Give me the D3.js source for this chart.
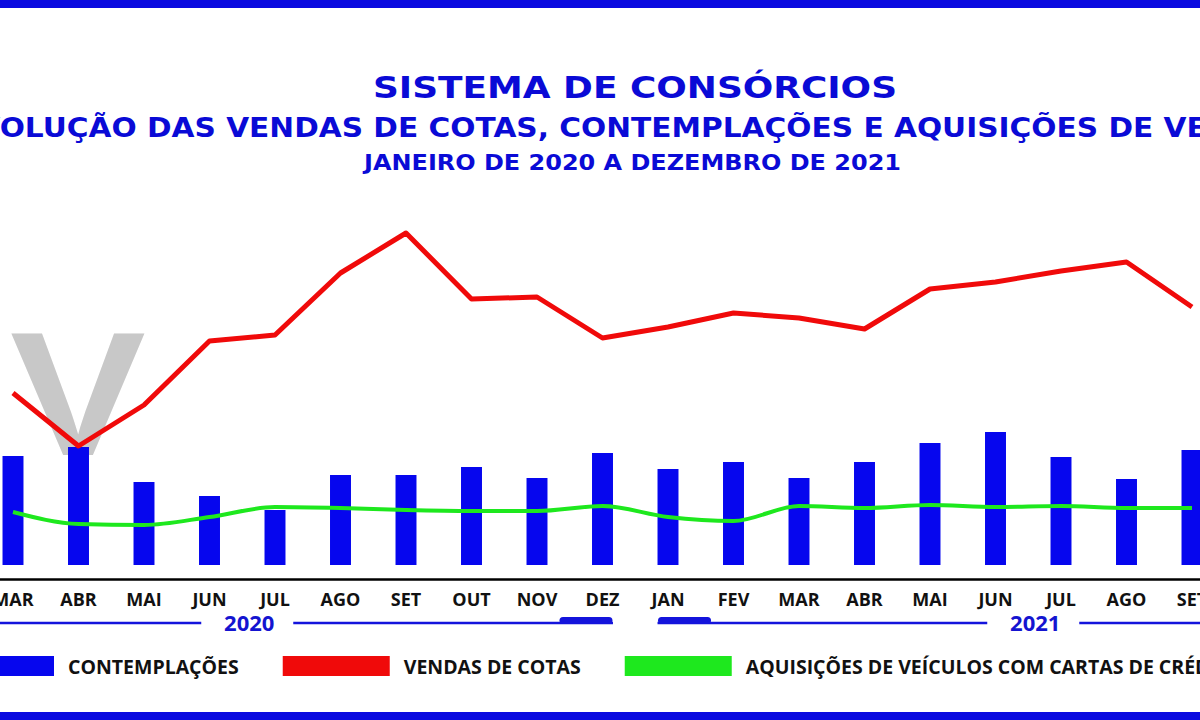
<!DOCTYPE html>
<html><head><meta charset="utf-8">
<script src="https://cdn.jsdelivr.net/npm/d3@7"></script>
<style>body{margin:0;background:#fff}</style>
</head><body><svg id="c" width="1200" height="720"></svg>
<script>
// ---- data (visible window: MAR 2020 .. SET 2021), values in thousands ----
const periodKeys = ["2020-03","2020-04","2020-05","2020-06","2020-07","2020-08","2020-09","2020-10","2020-11","2020-12",
                    "2021-01","2021-02","2021-03","2021-04","2021-05","2021-06","2021-07","2021-08","2021-09"];
const monthLabels = ["MAR","ABR","MAI","JUN","JUL","AGO","SET","OUT","NOV","DEZ",
                     "JAN","FEV","MAR","ABR","MAI","JUN","JUL","AGO","SET"];
const yearLabels = ["2020","2021"];
const contemplacoes = [109,118,83,69,55,90,90,98,87,112,96,103,87,103,122,133,108,86,115];
const vendasCotas   = [172,119,160,224,230,292,332,266,268,227,238,252,247,236,276,283,294,303,258];
const aquisicoesVeiculos = [53,41,40,48,58,57,55,54,54,59,48,44,59,57,60,58,59,57,57];
const titleLines = ["SISTEMA DE CONSÓRCIOS",
  "EVOLUÇÃO DAS VENDAS DE COTAS, CONTEMPLAÇÕES E AQUISIÇÕES DE VEÍCULOS",
  "JANEIRO DE 2020 A DEZEMBRO DE 2021"];
const legendLabels = ["CONTEMPLAÇÕES","VENDAS DE COTAS","AQUISIÇÕES DE VEÍCULOS COM CARTAS DE CRÉDITO"];
const watermark = "V";

const BLUE = "#0606ee", RED = "#f00a0a", GREEN = "#1ee81e", TITLE = "#0a0ad6";
const svg = d3.select("#c");

const x = d3.scaleBand().domain(periodKeys).range([-19.75, 1224.75]).paddingInner(0.68).paddingOuter(0.34);
const y = d3.scaleLinear().domain([0, 400]).range([565, 165]);
const cx = k => x(k) + x.bandwidth() / 2;

// borders
svg.append("rect").attr("x",0).attr("y",0).attr("width",1200).attr("height",8).attr("fill","#0a0ae0");
svg.append("rect").attr("x",0).attr("y",712).attr("width",1200).attr("height",8).attr("fill","#0a0ae0");

// titles
svg.append("text").text(titleLines[0]).attr("x",373).attr("y",98)
  .attr("font-family","DejaVu Sans").attr("font-weight","bold").attr("font-size",30)
  .attr("fill",TITLE).attr("textLength",524).attr("lengthAdjust","spacingAndGlyphs");
svg.append("text").text(titleLines[1]).attr("x",-43).attr("y",137)
  .attr("font-family","DejaVu Sans").attr("font-weight","bold").attr("font-size",26)
  .attr("fill",TITLE).attr("textLength",1371).attr("lengthAdjust","spacingAndGlyphs");
svg.append("text").text(titleLines[2]).attr("x",364).attr("y",170)
  .attr("font-family","DejaVu Sans").attr("font-weight","bold").attr("font-size",22)
  .attr("fill",TITLE).attr("textLength",537).attr("lengthAdjust","spacingAndGlyphs");

// gray watermark letter
svg.append("text").text(watermark).attr("transform","translate(10,455) scale(1.15,1)")
  .attr("font-family","Liberation Sans").attr("font-weight","bold").attr("font-size",177)
  .attr("fill","#c8c8c8");

// bars
svg.append("g").selectAll("rect").data(periodKeys).join("rect")
  .attr("x", d => x(d)).attr("width", x.bandwidth())
  .attr("y", (d,i) => y(contemplacoes[i])).attr("height", (d,i) => y(0) - y(contemplacoes[i]))
  .attr("fill", BLUE);

// lines
const lineG = d3.line().x(d => cx(d.k)).y(d => y(d.v)).curve(d3.curveMonotoneX);
svg.append("path").datum(periodKeys.map((k,i)=>({k, v: aquisicoesVeiculos[i]})))
  .attr("d", lineG).attr("fill","none").attr("stroke",GREEN).attr("stroke-width",4);
const lineR = d3.line().x(d => cx(d.k)).y(d => y(d.v));
svg.append("path").datum(periodKeys.map((k,i)=>({k, v: vendasCotas[i]})))
  .attr("d", lineR).attr("fill","none").attr("stroke",RED).attr("stroke-width",5)
  .attr("stroke-linejoin","round");

// x axis
const ax = svg.append("g").attr("transform","translate(0,579)")
  .call(d3.axisBottom(x).tickSize(0).tickSizeOuter(0).tickPadding(14).tickFormat((d,i)=>monthLabels[i]));
ax.select(".domain").attr("stroke","#000").attr("stroke-width",2.5);
ax.selectAll("text").attr("font-family","Open Sans").attr("font-weight","bold").attr("font-size",18).attr("fill","#111");

// year brackets
const [r0, r1] = x.range();
yearLabels.forEach((yr, yi) => {
  const keys = periodKeys.filter(k => k.startsWith(yr));
  const left = yi === 0 ? r0 : x(keys[0]);
  const right = yi === yearLabels.length - 1 ? r1 : x(keys[keys.length-1]) + x.bandwidth();
  const mid = (cx(yr+"-06") + cx(yr+"-07")) / 2 + 7;
  const g = svg.append("g");
  g.append("line").attr("x1",left).attr("x2",mid-48).attr("y1",623).attr("y2",623).attr("stroke","#1414dc").attr("stroke-width",2.5);
  g.append("line").attr("x1",mid+44).attr("x2",right).attr("y1",623).attr("y2",623).attr("stroke","#1414dc").attr("stroke-width",2.5);
  if (yi === 0) {
    g.append("line").attr("x1",right-50).attr("x2",right-4).attr("y1",620.5).attr("y2",620.5)
      .attr("stroke","#1414dc").attr("stroke-width",7).attr("stroke-linecap","round");
  } else {
    g.append("line").attr("x1",left+4).attr("x2",left+50).attr("y1",620.5).attr("y2",620.5)
      .attr("stroke","#1414dc").attr("stroke-width",7).attr("stroke-linecap","round");
  }
  g.append("text").text(yr).attr("x",mid).attr("y",631).attr("text-anchor","middle")
    .attr("font-family","Open Sans").attr("font-weight","bold").attr("font-size",22).attr("fill","#1414d0");
});

// legend
const legColors = [BLUE, RED, GREEN];
let lx = -53;
legendLabels.forEach((lab, i) => {
  svg.append("rect").attr("x",lx).attr("y",656).attr("width",107).attr("height",20).attr("fill",legColors[i]);
  const t = svg.append("text").text(lab).attr("x",lx+121).attr("y",674)
    .attr("font-family","Open Sans").attr("font-weight","bold").attr("font-size",19.5).attr("fill","#111");
  lx = lx + 121 + t.node().getComputedTextLength() + 44;
});
</script></body></html>
